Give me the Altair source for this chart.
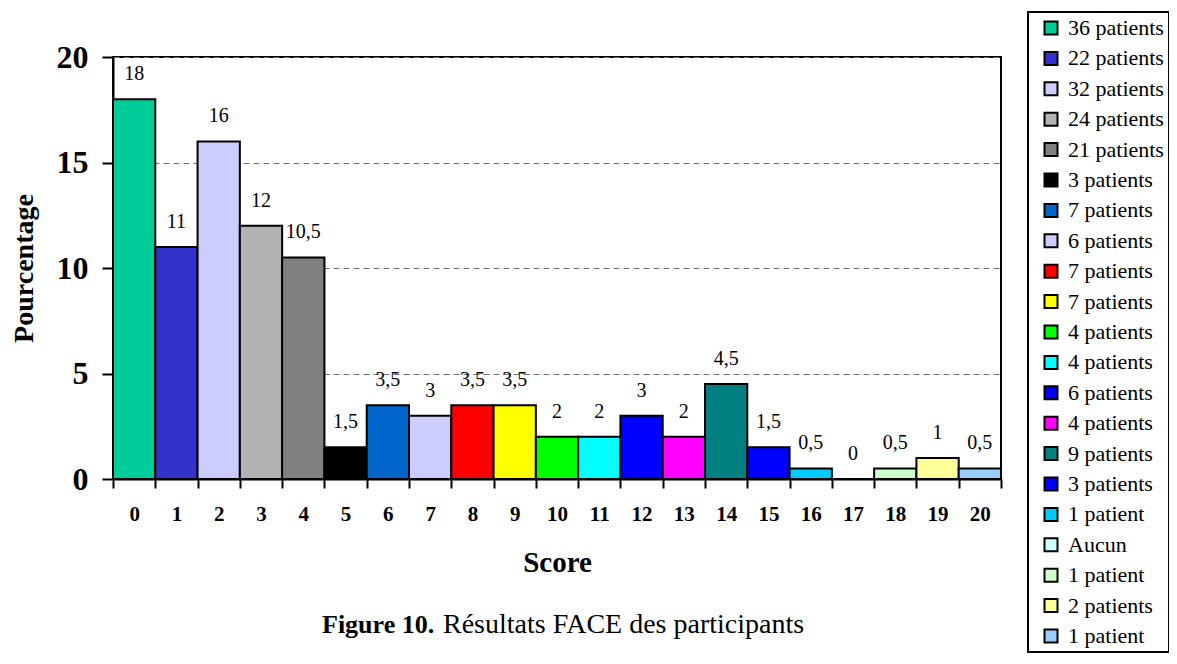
import altair as alt
import pandas as pd

scores = list(range(21))
values = [18, 11, 16, 12, 10.5, 1.5, 3.5, 3, 3.5, 3.5, 2, 2, 3, 2, 4.5, 1.5, 0.5, 0, 0.5, 1, 0.5]
colors = ["#00CC99", "#3333CC", "#CCCCFF", "#B2B2B2", "#808080", "#000000", "#0066CC",
          "#CCCCFF", "#FF0000", "#FFFF00", "#00FF00", "#00FFFF", "#0000FF", "#FF00FF",
          "#008080", "#0000FF", "#00CCFF", "#CCFFFF", "#CCFFCC", "#FFFF99", "#99CCFF"]
legend_labels = ["36 patients", "22 patients", "32 patients", "24 patients", "21 patients",
                 "3 patients", "7 patients", "6 patients", "7 patients", "7 patients",
                 "4 patients", "4 patients", "6 patients", "4 patients", "9 patients",
                 "3 patients", "1 patient", "Aucun", "1 patient", "2 patients", "1 patient"]
y_ticks = [0, 5, 10, 15, 20]
caption_bold = "Figure 10."
caption_rest = "Résultats FACE des participants"

FONT = "Liberation Serif"

df = pd.DataFrame({
    "Score": scores,
    "Pourcentage": values,
    "Label": [("%g" % v).replace(".", ",") for v in values],
})

label_expr = "[" + ",".join("'%s'" % s for s in legend_labels) + "][datum.value]"

x_enc = alt.X("Score:O", scale=alt.Scale(domain=scores, paddingInner=0, paddingOuter=0),
              axis=alt.Axis(title="Score", labelAngle=0, tickBand="extent", tickSize=9,
                            labelFontSize=21, labelPadding=15, titleFontSize=29,
                            titlePadding=24, grid=False))
y_enc = alt.Y("Pourcentage:Q", scale=alt.Scale(domain=[0, 20], nice=False),
              axis=alt.Axis(title="Pourcentage", values=y_ticks, tickSize=11,
                            labelFontSize=32, labelPadding=14, titleFontSize=28,
                            titlePadding=18, grid=True, gridDash=[6, 4],
                            gridColor="#707070", gridWidth=1.2))

bars = alt.Chart(df).mark_bar(stroke="black", strokeWidth=2, opacity=1).encode(
    x=x_enc,
    y=y_enc,
    color=alt.Color("Score:O", scale=alt.Scale(domain=scores, range=colors),
                    legend=alt.Legend(title=None, orient="none", legendX=915, legendY=-45,
                                      labelExpr=label_expr, symbolType="square",
                                      symbolSize=169, symbolStrokeColor="black",
                                      symbolStrokeWidth=2, symbolOffset=7,
                                      labelFontSize=22, labelOffset=6, rowPadding=8.4,
                                      padding=5, labelLimit=300)),
)

texts = alt.Chart(df).mark_text(font=FONT, fontSize=20, baseline="middle", dy=-25,
                                color="black").encode(
    x=alt.X("Score:O"),
    y=alt.Y("Pourcentage:Q"),
    text="Label:N",
)

cap_df = pd.DataFrame({"bold": [caption_bold], "rest": [caption_rest]})
cap1 = alt.Chart(cap_df).mark_text(font=FONT, fontSize=26, fontWeight="bold", align="left",
                                   baseline="middle", color="black").encode(
    x=alt.value(209), y=alt.value(568), text="bold:N")
cap2 = alt.Chart(cap_df).mark_text(font=FONT, fontSize=28, align="left",
                                   baseline="middle", color="black").encode(
    x=alt.value(330), y=alt.value(568), text="rest:N")

chart = alt.layer(bars, texts, cap1, cap2).properties(
    width=888, height=422,
    autosize=alt.AutoSizeParams(type="none"),
    padding={"left": 105, "top": 49, "right": 168, "bottom": 177},
).configure(
    font=FONT,
).configure_view(
    stroke="black", strokeWidth=2,
).configure_axis(
    labelFont=FONT, titleFont=FONT, labelFontWeight="bold", titleFontWeight="bold",
    labelColor="black", titleColor="black", domainColor="black", domainWidth=2,
    tickColor="black", tickWidth=2,
).configure_legend(
    labelFont=FONT, labelColor="black", strokeColor="black", strokeWidth=2,
)

chart.save("out.html", embed_options={"renderer": "svg", "actions": False})
